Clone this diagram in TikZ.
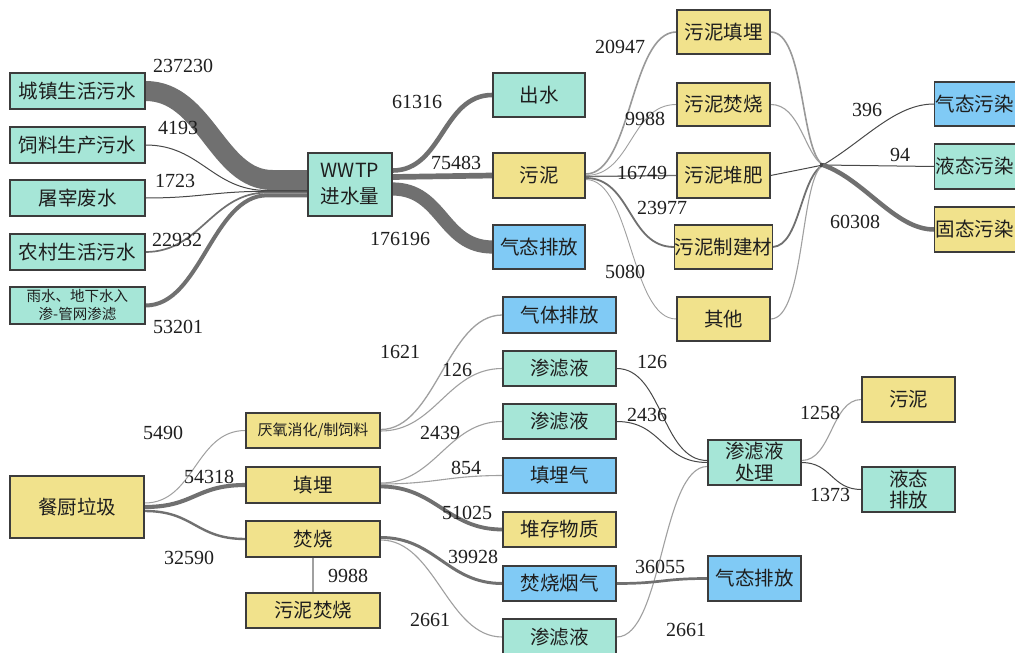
\documentclass[tikz,border=0pt]{standalone}
\usepackage{fontspec}
\setmainfont{Liberation Serif}
\newfontfamily\cjk{Noto Sans CJK SC}
\usetikzlibrary{calc}
\pgfdeclarelayer{back}
\pgfdeclarelayer{flows}
\pgfsetlayers{back,flows,main}

\definecolor{boxteal}{RGB}{166,230,215}
\definecolor{boxyellow}{RGB}{241,226,140}
\definecolor{boxblue}{RGB}{128,202,245}
\definecolor{boxedge}{RGB}{60,60,60}
\definecolor{txt}{RGB}{30,30,30}
\definecolor{fmid}{RGB}{112,112,112}
\definecolor{fdark}{RGB}{72,72,72}
\definecolor{flight}{RGB}{160,160,160}

\tikzset{
  box/.style={draw=boxedge, line width=1.3pt, inner sep=0pt, text=txt, align=center,
              font=\cjk\fontsize{19.5}{22}\selectfont},
  tbox/.style={box, fill=boxteal},
  ybox/.style={box, fill=boxyellow},
  bbox/.style={box, fill=boxblue},
  num/.style={inner sep=0pt, text=txt, font=\fontsize{20}{22}\selectfont},
  fl/.style={draw=fmid, line cap=butt},
  fdk/.style={draw=fdark, line width=1pt},
  flt/.style={draw=flight, line width=1.1pt},
}
% Sankey-style band: style, start, end, horizontal handle length
\newcommand{\band}[4]{\draw[#1] #2 .. controls +(#4,0) and +(-#4,0) .. #3;}

\begin{document}
\begin{tikzpicture}[x=1pt,y=-1pt]
\useasboundingbox (0,0) rectangle (1015,653);
\begin{pgfonlayer}{back}
  \fill[white] (0,0) rectangle (1015,653);
\end{pgfonlayer}

% ---------- sewage part ----------
\node[tbox, minimum width=135pt, minimum height=36pt] (czsh) at (77.5,91) {城镇生活污水};
\node[tbox, minimum width=135pt, minimum height=36pt] (slsc) at (77.5,145) {饲料生产污水};
\node[tbox, minimum width=135pt, minimum height=36pt] (tzfs) at (77.5,198) {屠宰废水};
\node[tbox, minimum width=135pt, minimum height=36pt] (ncsh) at (77.5,252) {农村生活污水};
\node[tbox, minimum width=135pt, minimum height=37pt, font=\cjk\fontsize{14.5}{18}\selectfont] (ysrs) at (77.5,305.5) {雨水、地下水入\\渗-管网渗滤};
\node[tbox, minimum width=84pt, minimum height=63pt, font=\cjk\fontsize{19.5}{26}\selectfont] (wwtp) at (350,184.5) {WWTP\\进水量};
\node[tbox, minimum width=92pt, minimum height=44pt] (cs) at (539,95) {出水};
\node[ybox, minimum width=92pt, minimum height=45pt] (wn) at (539,175.5) {污泥};
\node[bbox, minimum width=92pt, minimum height=44pt] (qtpf) at (539,247) {气态排放};
\node[ybox, minimum width=93pt, minimum height=44pt] (wntm) at (723.5,32) {污泥填埋};
\node[ybox, minimum width=93pt, minimum height=43pt] (wnfs) at (723.5,104.5) {污泥焚烧};
\node[ybox, minimum width=93pt, minimum height=45pt] (wndf) at (723.5,175.5) {污泥堆肥};
\node[ybox, minimum width=93pt, minimum height=44pt] (wnjc) at (723.5,247) {污泥制建材};
\node[ybox, minimum width=93pt, minimum height=44pt] (qt) at (723.5,319) {其他};
\node[bbox, anchor=west, minimum width=100pt, minimum height=44pt, text width=98pt, align=left] (qtwr) at (934,104) {气态污染};
\node[tbox, anchor=west, minimum width=100pt, minimum height=45pt, text width=98pt, align=left] (ytwr) at (934,166.5) {液态污染};
\node[ybox, anchor=west, minimum width=100pt, minimum height=45pt, text width=98pt, align=left] (gtwr) at (934,229.5) {固态污染};
\coordinate (J) at (823,165);

% ---------- kitchen waste part ----------
\node[ybox, minimum width=134pt, minimum height=62pt] (cclj) at (77,507) {\raisebox{-4pt}{餐厨垃圾}};
\node[ybox, minimum width=134pt, minimum height=35pt, font=\cjk\fontsize{15}{18}\selectfont] (yyxh) at (313,430.5) {厌氧消化/制饲料};
\node[ybox, minimum width=134pt, minimum height=36pt] (tm) at (313,485) {填埋};
\node[ybox, minimum width=134pt, minimum height=36pt] (fs) at (313,539) {焚烧};
\node[ybox, minimum width=134pt, minimum height=35pt] (wnfsb) at (313,610.5) {污泥焚烧};
\node[bbox, minimum width=113pt, minimum height=36pt] (qtpfb) at (559.5,315) {气体排放};
\node[tbox, minimum width=113pt, minimum height=35pt] (slya) at (559.5,368.5) {渗滤液};
\node[tbox, minimum width=113pt, minimum height=35pt] (slyb) at (559.5,421.5) {渗滤液};
\node[bbox, minimum width=113pt, minimum height=35pt] (tmq) at (559.5,475.5) {填埋气};
\node[ybox, minimum width=113pt, minimum height=35pt] (dcwz) at (559.5,529.5) {堆存物质};
\node[bbox, minimum width=113pt, minimum height=35pt] (fsyq) at (559.5,583.5) {焚烧烟气};
\node[tbox, minimum width=113pt, minimum height=36pt] (slyc) at (559.5,637) {渗滤液};
\node[tbox, minimum width=93pt, minimum height=45pt] (slycl) at (754.5,462.5) {渗滤液\\处理};
\node[ybox, minimum width=93pt, minimum height=45pt] (wnr) at (908.5,399.5) {污泥};
\node[tbox, minimum width=93pt, minimum height=45pt, font=\cjk\fontsize{19.5}{21}\selectfont] (ytpf) at (908.5,489.5) {液态\\排放};
\node[bbox, minimum width=93pt, minimum height=45pt] (qtpfc) at (754.5,578.5) {气态排放};

% ---------- flows ----------
\begin{pgfonlayer}{flows}
  % into the treatment plant
  \draw[fl, line width=20pt] (czsh.east) .. controls +(60,0) and +(-55,0) .. ($(wwtp.west)+(-35,-4.5)$) -- ($(wwtp.west)+(0,-4.5)$);
  \draw[fdk] (slsc.east) .. controls +(55,0) and +(-55,0) .. ($(wwtp.west)+(-40,6)$) -- ($(wwtp.west)+(0,6)$);
  \draw[fdk] (tzfs.east) .. controls +(55,0) and +(-55,0) .. ($(wwtp.west)+(-40,6.8)$) -- ($(wwtp.west)+(0,6.8)$);
  \draw[fl, line width=1.7pt] (ncsh.east) .. controls +(55,0) and +(-55,0) .. ($(wwtp.west)+(-40,8)$) -- ($(wwtp.west)+(0,8)$);
  \draw[fl, line width=4pt] (ysrs.east) .. controls +(55,0) and +(-55,0) .. ($(wwtp.west)+(-40,10.8)$) -- ($(wwtp.west)+(0,10.8)$);
  % out of the treatment plant
  \band{fl, line width=4.6pt}{($(wwtp.east)+(0,-14)$)}{(cs.west)}{50}
  \band{fl, line width=5.7pt}{($(wwtp.east)+(0,-7.5)$)}{(wn.west)}{50}
  \band{fl, line width=13.2pt}{($(wwtp.east)+(0,4.5)$)}{(qtpf.west)}{50}
  % sludge routes
  \band{fl, line width=1.6pt, draw=gray!80}{($(wn.east)+(0,-1.5)$)}{(wntm.west)}{46}
  \band{flt, line width=0.9pt}{($(wn.east)+(0,0)$)}{(wnfs.west)}{46}
  \band{fl, line width=1.3pt}{($(wn.east)+(0,1)$)}{(wndf.west)}{46}
  \band{fl, line width=1.8pt}{($(wn.east)+(0,2.5)$)}{(wnjc.west)}{46}
  \band{flt, line width=0.9pt}{($(wn.east)+(0,4)$)}{(qt.west)}{46}
  % sludge routes to pollutant forms
  \draw[fl, line width=1.6pt, draw=gray!80] (wntm.east) .. controls (805,32) and (800,150) .. (J);
  \draw[flt] (wnfs.east) .. controls (800,104) and (805,155) .. (J);
  \draw[fdk] (wndf.east) -- (J);
  \draw[fl, line width=1.8pt] (wnjc.east) .. controls (800,245) and (800,178) .. (J);
  \draw[flt] (qt.east) .. controls (805,319) and (800,178) .. (J);
  \fill[fdark] ($(J)+(-3,-2)$) rectangle ($(J)+(3,2)$);
  \draw[fdk] (J) .. controls (865,140) and (895,104) .. (qtwr.west);
  \draw[fdk] (J) -- (ytwr.west);
  \draw[fl, line width=4.5pt] (J) .. controls (865,180) and (895,229.5) .. (gtwr.west);

  % kitchen waste
  \band{flt, line width=1pt}{($(cclj.east)+(0,-4)$)}{(yyxh.west)}{50}
  \band{fl, line width=4.1pt}{($(cclj.east)+(0,0)$)}{(tm.west)}{50}
  \band{fl, line width=2.4pt}{($(cclj.east)+(0,4)$)}{(fs.west)}{50}
  \draw[flt] (fs.south) -- (wnfsb.north);
  \band{flt, line width=1.3pt}{($(yyxh.east)+(0,-1)$)}{(qtpfb.west)}{55}
  \band{flt}{($(yyxh.east)+(0,0.5)$)}{(slya.west)}{55}
  \band{flt}{($(tm.east)+(0,-2)$)}{(slyb.west)}{55}
  \band{flt}{($(tm.east)+(0,-1)$)}{(tmq.west)}{55}
  \band{fl, line width=3.8pt}{($(tm.east)+(0,1.5)$)}{(dcwz.west)}{55}
  \band{fl, line width=3pt}{($(fs.east)+(0,-1.5)$)}{(fsyq.west)}{55}
  \band{flt}{($(fs.east)+(0,1)$)}{(slyc.west)}{55}
  \band{fdk}{(slya.east)}{($(slycl.west)+(0,-2)$)}{46}
  \band{fdk}{(slyb.east)}{($(slycl.west)+(0,0)$)}{46}
  \band{flt}{(slyc.east)}{($(slycl.west)+(0,4)$)}{46}
  \band{fl, line width=2.7pt}{(fsyq.east)}{(qtpfc.west)}{46}
  \band{flt}{($(slycl.east)+(0,-2)$)}{(wnr.west)}{30}
  \band{fdk}{($(slycl.east)+(0,0)$)}{(ytpf.west)}{30}
\end{pgfonlayer}

% ---------- quantities ----------
\node[num] (q237230) at (183,66) {237230};
\node[num] (q4193) at (178,128) {4193};
\node[num] (q1723) at (175,181) {1723};
\node[num] (q22932) at (177,240) {22932};
\node[num] (q53201) at (178,327) {53201};
\node[num] (q61316) at (417,102) {61316};
\node[num] (q75483) at (456,163) {75483};
\node[num] (q176196) at (400,239) {176196};
\node[num] (q20947) at (620,47) {20947};
\node[num] (q9988a) at (645,119) {9988};
\node[num] (q16749) at (642,173) {16749};
\node[num] (q23977) at (662,208) {23977};
\node[num] (q5080) at (625,272) {5080};
\node[num] (q396) at (867,110) {396};
\node[num] (q94) at (900,155) {94};
\node[num] (q60308) at (855,222) {60308};
\node[num] (q5490) at (163,433) {5490};
\node[num] (q54318) at (209,477) {54318};
\node[num] (q32590) at (189,558) {32590};
\node[num] (q9988b) at (348,576) {9988};
\node[num] (q1621) at (400,352) {1621};
\node[num] (q126a) at (457,370) {126};
\node[num] (q2439) at (440,433) {2439};
\node[num] (q854) at (466,468) {854};
\node[num] (q51025) at (467,513) {51025};
\node[num] (q39928) at (473,557) {39928};
\node[num] (q2661a) at (430,620) {2661};
\node[num] (q126b) at (652,362) {126};
\node[num] (q2436) at (647,415) {2436};
\node[num] (q36055) at (660,567) {36055};
\node[num] (q2661b) at (686,630) {2661};
\node[num] (q1258) at (820,413) {1258};
\node[num] (q1373) at (830,495) {1373};
\end{tikzpicture}
\end{document}
